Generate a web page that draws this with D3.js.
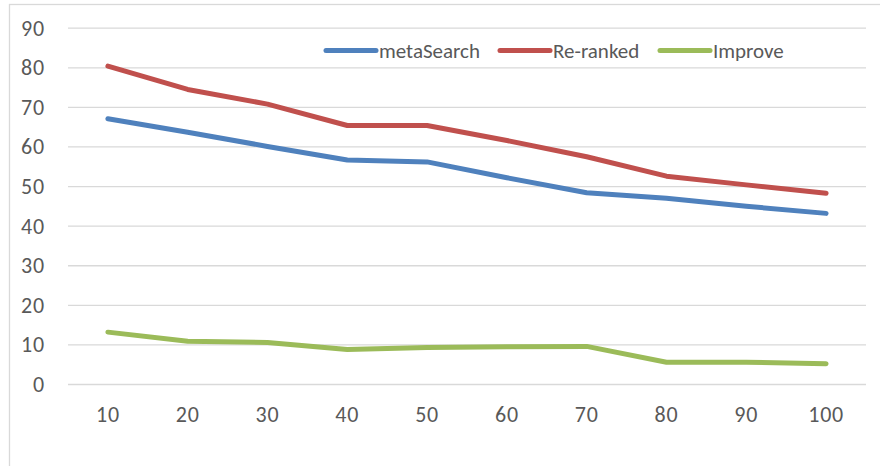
<!DOCTYPE html>
<html>
<head>
<meta charset="utf-8">
<script src="https://cdn.jsdelivr.net/npm/d3@7"></script>
<style>
  body { margin: 0; background: #fff; }
  svg text { font-family: Carlito, Calibri, Lato, sans-serif; fill: #595959; }
  .tick text { letter-spacing: 0.8px; }
</style>
</head>
<body>
<svg id="chart" width="880" height="466"></svg>
<script>
// data
var categories = [10, 20, 30, 40, 50, 60, 70, 80, 90, 100];
var metaSearch = [67.0, 63.6, 60.0, 56.6, 56.1, 52.1, 48.3, 46.9, 44.9, 43.1];
var reRanked = [80.3, 74.4, 70.7, 65.3, 65.3, 61.5, 57.4, 52.5, 50.3, 48.2];
var improve = [13.1, 10.8, 10.5, 8.7, 9.2, 9.4, 9.5, 5.5, 5.5, 5.1];
var yTicks = [0, 10, 20, 30, 40, 50, 60, 70, 80, 90];
var seriesNames = ["metaSearch", "Re-ranked", "Improve"];
var seriesColors = ["#4F81BD", "#C0504D", "#9BBB59"];

var svg = d3.select("#chart");
var plotLeft = 68, plotRight = 866, plotTop = 27.7, plotBottom = 384;
var fontSize = "21px", tickFont = "22px";

// outer chart border (runs off the bottom/right like the screenshot)
svg.append("rect")
  .attr("x", 9.5).attr("y", 4.5)
  .attr("width", 880).attr("height", 480)
  .attr("fill", "none").attr("stroke", "#D9D9D9").attr("stroke-width", 1.3);

var x = d3.scaleBand().domain(categories).range([plotLeft, plotRight]);
var y = d3.scaleLinear().domain([0, 90]).range([plotBottom, plotTop]);

// y axis + gridlines
var yAxis = svg.append("g")
  .attr("transform", "translate(" + plotLeft + ",0)")
  .call(d3.axisLeft(y).tickValues(yTicks).tickSize(-(plotRight - plotLeft)).tickPadding(23));
yAxis.select(".domain").remove();
yAxis.selectAll("line").attr("stroke", "#D9D9D9").attr("stroke-width", 1.3);
yAxis.selectAll("text").style("font-size", tickFont).attr("dy", "0.34em");

// x axis labels
var xAxis = svg.append("g")
  .attr("transform", "translate(0," + plotBottom + ")")
  .call(d3.axisBottom(x).tickSize(0).tickPadding(22));
xAxis.select(".domain").remove();
xAxis.selectAll("text").style("font-size", tickFont);

// lines
var line = d3.line()
  .x(function(d, i){ return x(categories[i]) + x.bandwidth() / 2; })
  .y(function(d){ return y(d); });

var allSeries = [metaSearch, reRanked, improve];
svg.append("g").selectAll("path")
  .data(allSeries)
  .enter().append("path")
  .attr("d", line)
  .attr("fill", "none")
  .attr("stroke", function(d, i){ return seriesColors[i]; })
  .attr("stroke-width", 5)
  .attr("stroke-linecap", "round")
  .attr("stroke-linejoin", "round");

// legend
var legendX = [326, 500, 660];
var legend = svg.append("g").selectAll("g")
  .data(seriesNames)
  .enter().append("g")
  .attr("transform", function(d, i){ return "translate(" + legendX[i] + ",50.5)"; });
legend.append("line")
  .attr("x1", 0).attr("x2", 50)
  .attr("stroke", function(d, i){ return seriesColors[i]; })
  .attr("stroke-width", 5)
  .attr("stroke-linecap", "round");
legend.append("text")
  .attr("x", 53).attr("dy", "0.35em")
  .style("font-size", fontSize)
  .text(function(d){ return d; });
</script>
</body>
</html>
